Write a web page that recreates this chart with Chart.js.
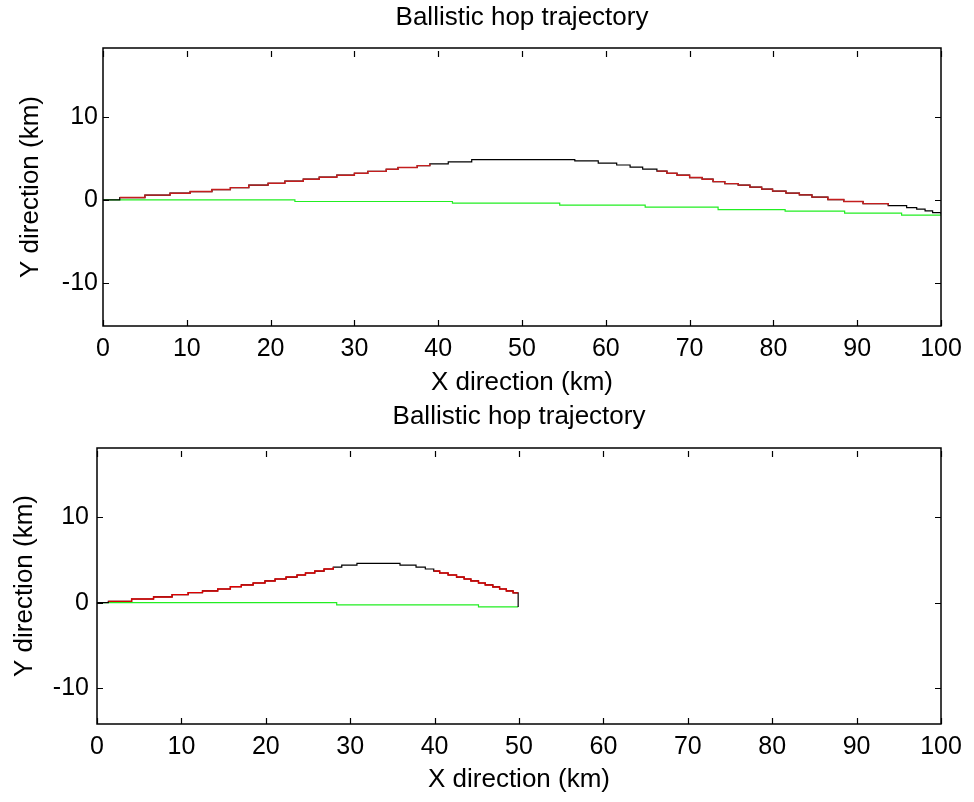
<!DOCTYPE html>
<html>
<head>
<meta charset="utf-8">
<script src="https://cdn.jsdelivr.net/npm/chart.js@4"></script>
<style>
  body { margin: 0; background: #fff; }
  .panel { position: absolute; left: 0; width: 974px; height: 401px; }
</style>
</head>
<body>
<div class="panel" style="top:0"><canvas id="hopLong"></canvas></div>
<div class="panel" style="top:401px"><canvas id="hopShort"></canvas></div>
<script>
// 100 km hop: altitude staircase (x, y in km)
const longX = [0, 2.0, 5.0, 8.0, 10.4, 13.0, 15.2, 17.4, 19.7, 21.7, 23.9, 25.8, 27.9, 30.0, 31.6, 33.8,
  35.2, 37.5, 39.0, 41.2, 44.0, 56.3, 59.1, 61.3, 62.9, 64.4, 66.1, 67.3, 68.5, 70.0, 71.5, 72.8, 74.2,
  75.8, 77.2, 78.6, 79.9, 81.5, 83.1, 84.6, 86.5, 88.4, 90.7, 93.7, 95.9, 97.1, 98.1, 99.0, 100];
const longY = [0, 0.28, 0.57, 0.80, 1.00, 1.24, 1.48, 1.77, 2.00, 2.25, 2.49, 2.73, 2.97, 3.20, 3.43, 3.68,
  3.90, 4.13, 4.34, 4.58, 4.86, 4.70, 4.42, 4.20, 3.94, 3.70, 3.46, 3.20, 2.97, 2.69, 2.49, 2.20, 1.96,
  1.77, 1.53, 1.29, 1.05, 0.81, 0.60, 0.33, 0.04, -0.20, -0.45, -0.69, -0.93, -1.12, -1.33, -1.53, -1.72];
// index ranges of the powered (red) parts
const longRedSpans = [[1, 18], [26, 43]];
// ground track
const longGroundX = [0, 22.9, 41.7, 54.5, 64.7, 73.4, 81.4, 88.5, 95.3, 100];
const longGroundY = [0, -0.20, -0.40, -0.64, -0.88, -1.17, -1.36, -1.60, -1.84, -1.84];

// 50 km hop
const shortX = [0, 1.34, 4.1, 6.7, 8.9, 10.8, 12.5, 14.3, 15.8, 17.1, 18.5, 19.9, 21.1, 22.4, 23.7, 24.7,
  25.8, 26.9, 28.0, 29.0, 30.8, 35.9, 37.8, 38.9, 39.9, 40.6, 41.6, 42.6, 43.5, 44.3, 45.2, 46.0, 46.9,
  47.7, 48.5, 49.3, 49.9, 49.9];
const shortY = [0, 0.15, 0.43, 0.67, 0.94, 1.17, 1.37, 1.60, 1.87, 2.07, 2.30, 2.54, 2.77, 3.00, 3.24, 3.47,
  3.70, 3.94, 4.17, 4.40, 4.60, 4.40, 4.17, 3.94, 3.70, 3.47, 3.24, 3.00, 2.77, 2.54, 2.30, 2.07, 1.84,
  1.60, 1.37, 1.14, 1.14, -0.50];
const shortRedSpans = [[1, 18], [24, 36]];
const shortGroundX = [0, 28.4, 45.2, 49.9];
const shortGroundY = [0, -0.27, -0.50, -0.50];

const xTicks = [0, 10, 20, 30, 40, 50, 60, 70, 80, 90, 100];
const yTicks = [-10, 0, 10];
const chartTitle = 'Ballistic hop trajectory';

const FONT = "'Liberation Sans', Arial, sans-serif";

function toPoints(xs, ys) {
  return xs.map((x, i) => ({ x: x, y: ys[i] }));
}

// red segments separated by gaps
function spanPoints(xs, ys, spans) {
  let pts = [];
  spans.forEach((s, k) => {
    if (k > 0) pts.push({ x: xs[s[0]], y: null });
    for (let i = s[0]; i <= s[1]; i++) pts.push({ x: xs[i], y: ys[i] });
  });
  return pts;
}

// box around the plot area, small inward ticks on all four sides,
// and the title centred over the plot area
const frameTicks = {
  id: 'frameTicks',
  afterDraw(chart, args, opts) {
    const { ctx, chartArea: a, scales } = chart;
    const len = 6;
    ctx.save();
    ctx.strokeStyle = '#000';
    ctx.lineWidth = 1.5;
    ctx.strokeRect(a.left, a.top, a.right - a.left, a.bottom - a.top);
    ctx.lineWidth = 1.2;
    ctx.beginPath();
    xTicks.forEach(v => {
      const px = Math.round(scales.x.getPixelForValue(v)) + 0.5;
      ctx.moveTo(px, a.bottom); ctx.lineTo(px, a.bottom - len);
      ctx.moveTo(px, a.top + 3); ctx.lineTo(px, a.top + 3 + len);
    });
    yTicks.forEach(v => {
      const py = Math.round(scales.y.getPixelForValue(v)) + 0.5;
      ctx.moveTo(a.left, py); ctx.lineTo(a.left + len, py);
      ctx.moveTo(a.right, py); ctx.lineTo(a.right - len, py);
    });
    ctx.stroke();

    ctx.fillStyle = '#000';
    ctx.font = '26px ' + FONT;
    ctx.textAlign = 'center';
    ctx.textBaseline = 'middle';
    ctx.fillText(chartTitle, (a.left + a.right) / 2, a.top - opts.titleGap);
    ctx.restore();
  }
};

function makeChart(id, cfg) {
  return new Chart(document.getElementById(id), {
    type: 'line',
    data: {
      datasets: [
        { data: spanPoints(cfg.x, cfg.y, cfg.red), borderColor: cfg.redColor, borderWidth: 1.4,
          stepped: 'before', spanGaps: false },
        { data: toPoints(cfg.x, cfg.y), borderColor: '#000', borderWidth: 1.2, stepped: 'before' },
        { data: toPoints(cfg.gx, cfg.gy), borderColor: '#22ee22', borderWidth: 1.2, stepped: 'before' }
      ]
    },
    options: {
      responsive: true,
      maintainAspectRatio: false,
      animation: false,
      parsing: false,
      elements: { point: { radius: 0 }, line: { tension: 0 } },
      layout: { padding: { top: cfg.plotTop, right: 33, left: 0, bottom: 0 } },
      plugins: {
        legend: { display: false },
        tooltip: { enabled: false },
        title: { display: false },
        frameTicks: { titleGap: cfg.titleGap }
      },
      scales: {
        x: {
          type: 'linear', min: 0, max: 100,
          grid: { display: false, drawTicks: false },
          border: { display: false },
          ticks: { stepSize: 10, color: '#000', padding: cfg.xTickPad, font: { family: FONT, size: 25 } },
          title: { display: true, text: 'X direction (km)', color: '#000',
            font: { family: FONT, size: 26 }, padding: { top: 0, bottom: cfg.xTitlePad } },
          afterFit: s => { s.height = cfg.xAxisH; }
        },
        y: {
          type: 'linear', min: cfg.ymin, max: cfg.ymax,
          grid: { display: false, drawTicks: false },
          border: { display: false },
          ticks: { stepSize: 10, includeBounds: false, color: '#000', padding: cfg.yTickPad,
            font: { family: FONT, size: 25 } },
          title: { display: true, text: 'Y direction (km)', color: '#000',
            font: { family: FONT, size: 26 }, padding: { top: cfg.yTitlePad, bottom: 0 } },
          afterFit: s => { s.width = cfg.yAxisW; }
        }
      }
    },
    plugins: [frameTicks]
  });
}

makeChart('hopLong', {
  x: longX, y: longY, red: longRedSpans, gx: longGroundX, gy: longGroundY, redColor: '#c41e1e',
  ymin: -15.2, ymax: 18.3, plotTop: 48, titleGap: 30,
  xAxisH: 75, xTitlePad: 2.4, xTickPad: 8, yAxisW: 103, yTickPad: 5, yTitlePad: 15.4
});

makeChart('hopShort', {
  x: shortX, y: shortY, red: shortRedSpans, gx: shortGroundX, gy: shortGroundY, redColor: '#dd0000',
  ymin: -14.2, ymax: 18.1, plotTop: 47, titleGap: 31,
  xAxisH: 78, xTitlePad: 6.4, xTickPad: 8, yAxisW: 97, yTickPad: 8, yTitlePad: 9.4
});
</script>
</body>
</html>
